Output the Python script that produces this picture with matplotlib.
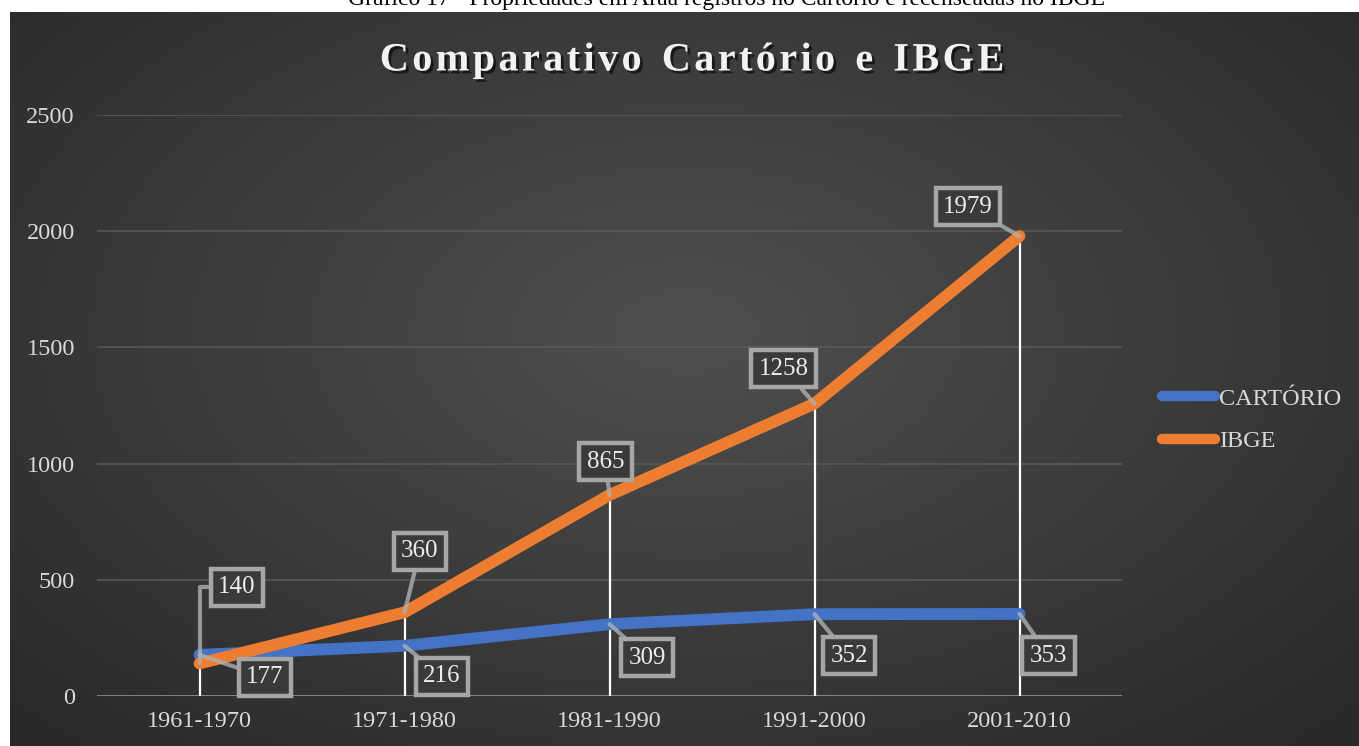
import numpy as np
import matplotlib.pyplot as plt
import matplotlib.patheffects as pe
from matplotlib.lines import Line2D

# data
periodos = ['1961-1970', '1971-1980', '1981-1990', '1991-2000', '2001-2010']
cartorio = [177, 216, 309, 352, 353]
ibge = [140, 360, 865, 1258, 1979]
yticks = [0, 500, 1000, 1500, 2000, 2500]

# label offsets (points) for the callout boxes
off_cart = [(47, -16), (27, -22), (27, -24), (25, -30), (21, -30)]
off_ibge = [(27, 55), (11, 44), (-3, 24), (-22, 25), (-37, 21)]

plt.rcParams['font.family'] = ['Liberation Serif', 'DejaVu Serif']

W, H = 1359, 746
fig = plt.figure(figsize=(W / 100, H / 100), dpi=100, facecolor='white')

## background with radial gradient
bg = fig.add_axes([10 / W, 0, 1 - 10 / W, (H - 12) / H])
bg.set_axis_off()
yy, xx = np.mgrid[0:300, 0:600]
cx, cy = 300, 130
r = np.sqrt(((xx - cx) / 600) ** 2 + ((yy - cy) / 330) ** 2)
r = np.clip(r / 0.75, 0, 1)
val = 0.31 - 0.16 * r
img = np.dstack([val, val, val])
bg.imshow(img, aspect='auto', extent=[0, 1, 0, 1], origin='upper')
bg.set_xlim(0, 1)
bg.set_ylim(0, 1)

# caption cut at the top (as in the source image)
fig.text(727 / W, 1 - 5 / H, 'Gráfico 17 - Propriedades em Araã registros no Cartório e recenseadas no IBGE',
         ha='center', va='baseline', fontsize=17, color='black')

## main axes
ax = fig.add_axes([97 / W, 50 / H, (1122 - 97) / W, (696 - 115) / H])
ax.patch.set_alpha(0)
x = np.arange(len(periodos))
ax.set_xlim(-0.5, len(periodos) - 0.5)
ax.set_ylim(0, 2500)

for yv in yticks[1:]:
    ax.axhline(yv, color='#585858', lw=1.2, zorder=1)
ax.axhline(0, color='#8c8c8c', lw=2, zorder=2)

for s in ax.spines.values():
    s.set_visible(False)
ax.set_yticks(yticks)
ax.set_xticks(x)
ax.set_xticklabels(periodos)
ax.tick_params(length=0, labelsize=17.5, colors='#d9d9d9')
ax.tick_params(axis='y', pad=16)
ax.tick_params(axis='x', pad=11)

# drop lines
top = np.maximum(cartorio, ibge)
ax.vlines(x, 0, top, colors='white', lw=1.6, zorder=3)

ax.plot(x, cartorio, color='#4472C4', lw=8.5, solid_capstyle='round', solid_joinstyle='round', zorder=4)
ax.plot(x, ibge, color='#ED7D31', lw=8.5, solid_capstyle='round', solid_joinstyle='round', zorder=5)

box = dict(boxstyle='square,pad=0.3', fc='#3a3a3a', ec='#a6a6a6', lw=3.2)
arr = dict(arrowstyle='-', color='#b0b0b0', lw=3, alpha=0.8, shrinkA=0, shrinkB=0)
for xi, v, o in zip(x, cartorio, off_cart):
    ax.annotate(str(v), (xi, v), xytext=o, textcoords='offset points', ha='center', va='center',
                fontsize=18, color='#ececec', bbox=box, arrowprops=arr, zorder=6)
for i, (xi, v, o) in enumerate(zip(x, ibge, off_ibge)):
    a = dict(arr)
    if i == 0:
        a['connectionstyle'] = 'angle,angleA=0,angleB=90,rad=0'
    ax.annotate(str(v), (xi, v), xytext=o, textcoords='offset points', ha='center', va='center',
                fontsize=18, color='#ececec', bbox=box, arrowprops=a, zorder=6)

## title
fig.text(692 / W, 1 - 61 / H, 'C o m p a r a t i v o   C a r t ó r i o   e   I B G E'.replace(' ', '\u200a').replace('\u200a\u200a\u200a', '  '),
         ha='center', va='center', fontsize=29, fontweight='bold', color='#f2f2f2',
         path_effects=[pe.withSimplePatchShadow(offset=(2, -2), shadow_rgbFace='black', alpha=0.6)])

## legend
handles = [Line2D([], [], color='#4472C4', lw=7.5, solid_capstyle='round'),
           Line2D([], [], color='#ED7D31', lw=7.5, solid_capstyle='round')]
leg = fig.legend(handles, ['CARTÓRIO', 'IBGE'], loc='center left', bbox_to_anchor=(1162 / W, 1 - 420 / H),
                 frameon=False, fontsize=17.5, labelcolor='#d9d9d9', handlelength=2.2, handletextpad=0.15,
                 labelspacing=0.85, borderpad=0, borderaxespad=0)

fig.savefig('out.png', dpi=100, facecolor='white')
